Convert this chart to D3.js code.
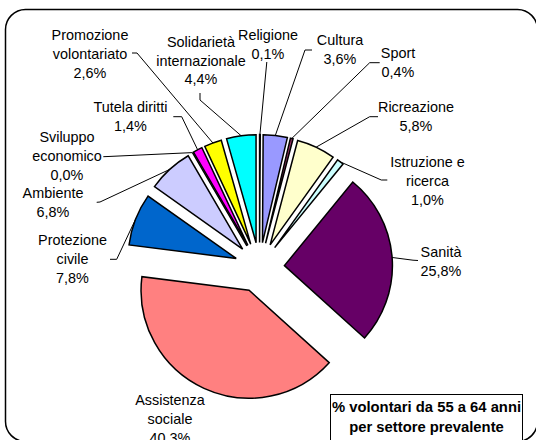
<!DOCTYPE html>
<html>
<head>
<meta charset="utf-8">
<script src="https://cdn.jsdelivr.net/npm/d3@7/dist/d3.min.js"></script>
<style>
  html, body { margin: 0; padding: 0; background: #fff; }
  svg { display: block; }
  text { font-family: Arial, "Liberation Sans", sans-serif; fill: #000; }
</style>
</head>
<body>
<svg id="chart" width="536" height="440"></svg>
<script>
// ---- data ----
const categories = ["Religione", "Cultura", "Sport", "Ricreazione", "Istruzione e ricerca",
  "Sanità", "Assistenza sociale", "Protezione civile", "Ambiente", "Sviluppo economico",
  "Tutela diritti", "Promozione volontariato", "Solidarietà internazionale"];
const values = [0.1, 3.6, 0.4, 5.8, 1.0, 25.8, 40.3, 7.8, 6.8, 0.0, 1.4, 2.6, 4.4];
const labelLines = [["Religione"], ["Cultura"], ["Sport"], ["Ricreazione"], ["Istruzione e", "ricerca"],
  ["Sanità"], ["Assistenza", "sociale"], ["Protezione", "civile"], ["Ambiente"], ["Sviluppo", "economico"],
  ["Tutela diritti"], ["Promozione", "volontariato"], ["Solidarietà", "internazionale"]];
const colors = ["#800080", "#9999FF", "#993366", "#FFFFCC", "#CCFFFF", "#660066", "#FF8080",
  "#0066CC", "#CCCCFF", "#000080", "#FF00FF", "#FFFF00", "#00FFFF"];
const titleLines = ["% volontari da 55 a 64 anni", "per settore prevalente"];

// ---- layout (label placement, leader elbows) ----
const labelLayout = {
  "Religione":                 {cx: 268,   y: 35,    leader: [[266.8, 62]]},
  "Cultura":                   {cx: 340,   y: 40,    leader: [[312, 50], [305, 50]]},
  "Sport":                     {cx: 398,   y: 53.3,  leader: [[379.7, 62.7], [369.7, 62.7]]},
  "Ricreazione":               {cx: 416,   y: 107.3, leader: [[378, 116.7], [369.7, 116.7]]},
  "Istruzione e ricerca":      {cx: 427.5, y: 162.3, leader: [[387.3, 180], [381.3, 180]]},
  "Sanità":                    {cx: 441,   y: 251.7, leader: [[418, 260.5], [413, 260.2]]},
  "Assistenza sociale":        {cx: 170,   y: 400,   leader: null},
  "Protezione civile":         {cx: 72.5,  y: 240,   leader: [[110, 259.3], [116.7, 259.3]]},
  "Ambiente":                  {cx: 53,    y: 193.3, leader: [[96.7, 202.3], [100, 202]]},
  "Sviluppo economico":        {cx: 67,    y: 137.3, leader: [[103.3, 156.7], [108, 156.5]]},
  "Tutela diritti":            {cx: 130.5, y: 107.3, leader: [[173.3, 116.7], [181.7, 116.7]]},
  "Promozione volontariato":   {cx: 90,    y: 35,    leader: [[132, 53], [137, 53]]},
  "Solidarietà internazionale":{cx: 201,   y: 41.7,  leader: [[200, 93], [200, 100]]}
};

const svg = d3.select("#chart");
const fontSize = 14.4, lineH = 18.8;
const fmt = v => d3.format(".1f")(v).replace(".", ",") + "%";

// chart area border
svg.append("rect").attr("x", 5.5).attr("y", 9.5).attr("width", 532).attr("height", 432)
  .attr("rx", 20).attr("ry", 20).attr("fill", "#fff").attr("stroke", "#000").attr("stroke-width", 1.5);

const cx = 259.5, cy = 267.5, R = 108, explode = 25;
const pie = d3.pie().sort(null).value(d => d.value).startAngle(0).endAngle(2 * Math.PI);
const arcs = pie(categories.map((c, i) => ({cat: c, value: values[i], i})));
const arc = d3.arc().innerRadius(0).outerRadius(R);

const g = svg.append("g").attr("transform", `translate(${cx},${cy})`);

function offset(d) {
  const m = (d.startAngle + d.endAngle) / 2;
  return [explode * Math.sin(m), -explode * Math.cos(m)];
}

g.selectAll("path.slice").data(arcs).join("path")
  .attr("class", "slice")
  .attr("d", arc)
  .attr("transform", d => { const o = offset(d); return `translate(${o[0]},${o[1]})`; })
  .attr("fill", d => colors[d.data.i])
  .attr("stroke", "#000")
  .attr("stroke-width", 1.5)
  .attr("stroke-linejoin", "miter");

// leader lines
const line = d3.line();
arcs.forEach(d => {
  const L = labelLayout[d.data.cat];
  if (!L || !L.leader) return;
  const o = offset(d);
  const m = (d.startAngle + d.endAngle) / 2;
  const ax = cx + o[0] + R * Math.sin(m), ay = cy + o[1] - R * Math.cos(m);
  const pts = L.leader.concat([[ax, ay]]);
  svg.append("path").attr("d", line(pts)).attr("fill", "none")
    .attr("stroke", "#000").attr("stroke-width", 1);
});

// labels
arcs.forEach(d => {
  const L = labelLayout[d.data.cat];
  const lines = labelLines[d.data.i].concat([fmt(d.data.value)]);
  const t = svg.append("text").attr("text-anchor", "middle").attr("font-size", fontSize);
  lines.forEach((s, k) => {
    t.append("tspan").attr("x", L.cx).attr("y", L.y + k * lineH).attr("dy", "0.35em").text(s);
  });
});

// title box
svg.append("rect").attr("x", 330.5).attr("y", 394.5).attr("width", 192).attr("height", 60)
  .attr("fill", "#fff").attr("stroke", "#000").attr("stroke-width", 1);
const tt = svg.append("text").attr("text-anchor", "middle").attr("font-size", 14.8).attr("font-weight", "bold");
titleLines.forEach((s, k) => {
  tt.append("tspan").attr("x", 426.5).attr("y", 406.7 + k * 20).attr("dy", "0.35em").text(s);
});
</script>
</body>
</html>
